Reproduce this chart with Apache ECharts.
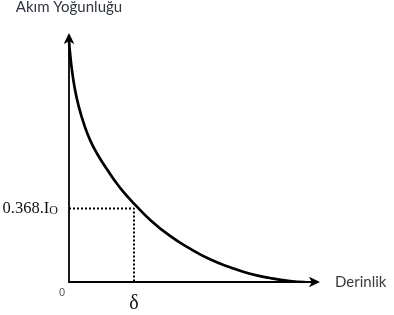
<!DOCTYPE html>
<html>
<head>
<meta charset="utf-8">
<script src="https://cdn.jsdelivr.net/npm/echarts@6/dist/echarts.min.js"></script>
<style>
html,body{margin:0;padding:0;background:#fff;}
#chart{width:394px;height:315px;}
</style>
</head>
<body>
<div id="chart"></div>
<script>
// Current density vs depth
var depth   = [0, 0.04, 0.12, 0.24, 0.4, 0.6, 0.84, 1.12, 1.44, 1.76, 2.16, 2.64, 3.24, 4.04, 4.84, 5.64, 6.44, 7.24, 8.04, 8.84, 9.44];
var density = [9.69, 9.21, 8.50, 7.72, 7.01, 6.34, 5.71, 5.16, 4.65, 4.17, 3.64, 3.11, 2.50, 1.85, 1.34, 0.91, 0.59, 0.33, 0.16, 0.04, 0.0];
var deltaX = 2.6;
var levelY = 2.95;
var yAxisName = 'Akım Yoğunluğu';
var xAxisName = 'Derinlik';
var originLabel = '0';
var deltaLabel = 'δ';
var levelLabelMain = '0.368.I';
var levelLabelSub = 'O';

var curve = depth.map(function (d, i) { return [d, density[i]]; });

var chart = echarts.init(document.getElementById('chart'));
chart.setOption({
  animation: false,
  backgroundColor: '#fff',
  grid: { left: 69, right: 78, top: 32, bottom: 33 },
  xAxis: {
    type: 'value', min: 0, max: 9.88,
    name: xAxisName, nameLocation: 'end', nameGap: 19,
    nameTextStyle: { fontFamily: 'Lato', fontSize: 15, color: '#3a3a3a', verticalAlign: 'middle', padding: [3, 0, 0, 0] },
    axisLine: { show: true, symbol: ['none', 'arrow'], symbolSize: [8, 11], symbolOffset: [0, 4],
      lineStyle: { color: '#000', width: 1.8 } },
    axisTick: { show: false }, axisLabel: { show: false }, splitLine: { show: false }
  },
  yAxis: {
    type: 'value', min: 0, max: 9.84,
    name: yAxisName, nameLocation: 'end', nameGap: 22,
    nameTextStyle: { fontFamily: 'Lato', fontSize: 15, color: '#2f3640', align: 'center' },
    axisLine: { show: true, symbol: ['none', 'arrow'], symbolSize: [8, 11], symbolOffset: [0, 4],
      lineStyle: { color: '#000', width: 1.8 } },
    axisTick: { show: false }, axisLabel: { show: false }, splitLine: { show: false }
  },
  series: [
    {
      type: 'line', data: curve, smooth: 0.5, showSymbol: false,
      lineStyle: { color: '#000', width: 2.7 }, z: 3
    },
    {
      type: 'line', data: [[0, levelY], [deltaX, levelY], [deltaX, 0]], showSymbol: false,
      lineStyle: { color: '#000', width: 2, type: [2, 2] }, z: 2
    }
  ]
});

var o = chart.convertToPixel({ gridIndex: 0 }, [0, 0]);
var d = chart.convertToPixel({ gridIndex: 0 }, [deltaX, 0]);
var l = chart.convertToPixel({ gridIndex: 0 }, [0, levelY]);
chart.setOption({
  graphic: [
    { type: 'text', x: o[0] - 7, y: o[1] + 11,
      style: { text: originLabel, font: '11px "Liberation Sans"', fill: '#555', textAlign: 'center', textVerticalAlign: 'middle' } },
    { type: 'text', x: d[0], y: d[1] + 22,
      style: { text: deltaLabel, font: '20px "Liberation Serif"', fill: '#111', textAlign: 'center', textVerticalAlign: 'middle' } },
    { type: 'text', x: l[0] - 11, y: l[1],
      style: {
        text: levelLabelMain + '{s|' + levelLabelSub + '}',
        font: '16.5px "Liberation Serif"', fill: '#111', textAlign: 'right', textVerticalAlign: 'middle',
        rich: { s: { fontSize: 12, fontFamily: 'Liberation Serif', fill: '#111', padding: [5, 0, 0, 0] } }
      } }
  ]
});
</script>
</body>
</html>
